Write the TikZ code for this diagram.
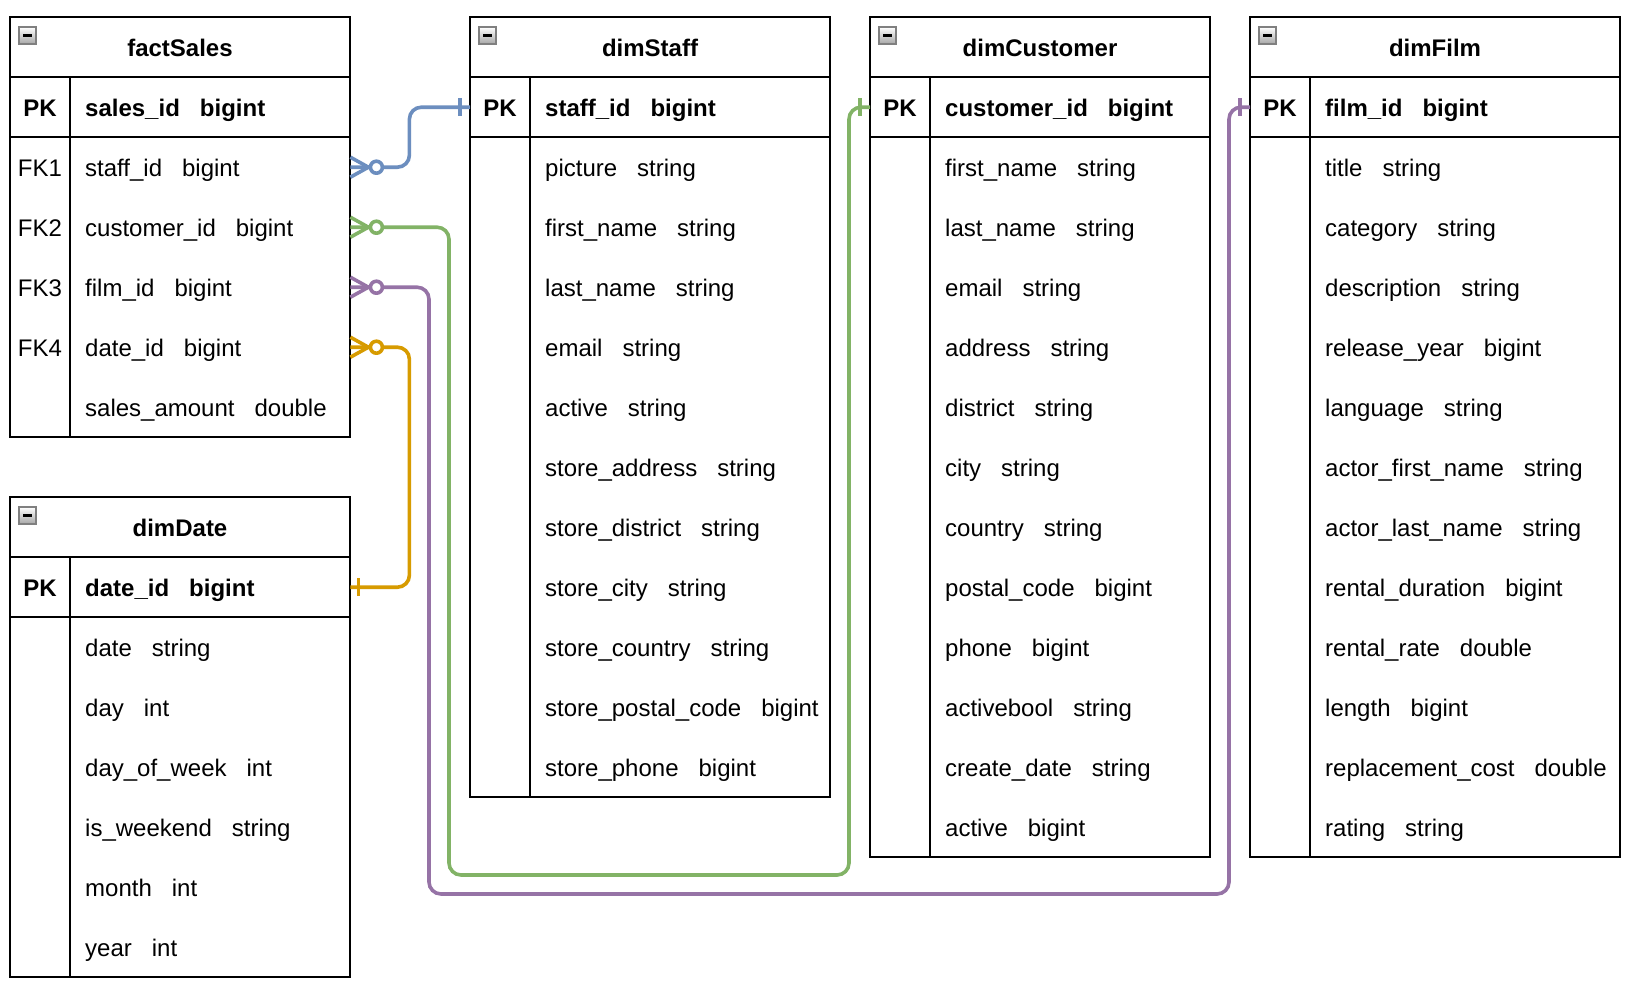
\documentclass[tikz,border=0pt]{standalone}
\usepackage{fontspec}
\setmainfont{Liberation Sans}
\usetikzlibrary{calc}
\definecolor{cBlue}{HTML}{6C8EBF}
\definecolor{cGreen}{HTML}{82B366}
\definecolor{cPurple}{HTML}{9673A6}
\definecolor{cOrange}{HTML}{D79B00}
\tikzset{
  tbline/.style={draw=black, line width=2pt},
  rowbox/.style={rectangle, minimum height=60pt, inner sep=0pt, anchor=north west},
  keytxt/.style={inner sep=0pt, anchor=base, font=\fontsize{24}{28}\selectfont},
  fldtxt/.style={inner sep=0pt, anchor=base west, font=\fontsize{24}{28}\selectfont},
  boldtxt/.style={font=\bfseries\fontsize{24}{28}\selectfont},
  conn/.style={line width=3.6pt, rounded corners=12pt},
  endmark/.style={line width=3.6pt, line join=round},
}
% #1 id, #2 x0, #3 y0, #4 width, #5 number of rows, #6 title, #7 pk field, #8 rows
\newcommand\mktable[8]{%
  \node[rowbox, minimum width=#4pt] (#1) at (#2,#3) {};
  \node[keytxt, boldtxt] (#1T) at (#2+#4/2,#3+39.5) {#6};
  \node[rowbox, minimum width=#4pt] (#1PK) at (#2,#3+60) {};
  \node[keytxt, boldtxt] (#1PKk) at (#2+30,#3+99.5) {PK};
  \node[fldtxt, boldtxt] (#1PKf) at (#2+75,#3+99.5) {#7};
  \foreach \ka/\kb/\kc [count=\ii] in {#8} {
    \node[rowbox, minimum width=#4pt] (#1R\ii) at (#2,#3+60+60*\ii) {};
    \node[keytxt] (#1K\ii) at (#2+30,#3+99.5+60*\ii) {\ka};
    \node[fldtxt] (#1F\ii) at (#2+75,#3+99.5+60*\ii) {\kb\hspace{20pt}\kc};
  }
  \draw[tbline] (#2,#3) rectangle (#2+#4,#3+120+60*#5);
  \draw[tbline] (#2,#3+60) -- (#2+#4,#3+60);
  \draw[tbline] (#2,#3+120) -- (#2+#4,#3+120);
  \draw[tbline] (#2+60,#3+60) -- (#2+60,#3+120+60*#5);
  \shade[top color=white, bottom color=black!35, draw=black!50, line width=1.2pt] (#2+9,#3+10) rectangle (#2+26,#3+27);
  \draw[line width=2.2pt] (#2+13,#3+18.5) -- (#2+22,#3+18.5);
}
\newcommand\manyend[2]{%
  \draw[endmark, #2] ($(#1.east)+(0,-10)$) -- ($(#1.east)+(18,0)$) -- ($(#1.east)+(0,10)$);
  \draw[endmark, #2, fill=white] ($(#1.east)+(26,0)$) circle (6pt);
}
\begin{document}
\begin{tikzpicture}[x=1pt,y=-1pt]
\fill[white] (0,0) rectangle (1629,988);
\useasboundingbox (0,0) rectangle (1629,988);

\mktable{fs}{10}{17}{340}{5}{factSales}{sales\_id\hspace{20pt}bigint}{%
  FK1/staff\_id/bigint, FK2/customer\_id/bigint, FK3/film\_id/bigint,
  FK4/date\_id/bigint, {}/sales\_amount/double}

\mktable{dd}{10}{497}{340}{6}{dimDate}{date\_id\hspace{20pt}bigint}{%
  {}/date/string, {}/day/int, {}/day\_of\_week/int, {}/is\_weekend/string,
  {}/month/int, {}/year/int}

\mktable{ds}{470}{17}{360}{11}{dimStaff}{staff\_id\hspace{20pt}bigint}{%
  {}/picture/string, {}/first\_name/string, {}/last\_name/string, {}/email/string,
  {}/active/string, {}/store\_address/string, {}/store\_district/string,
  {}/store\_city/string, {}/store\_country/string, {}/store\_postal\_code/bigint,
  {}/store\_phone/bigint}

\mktable{dc}{870}{17}{340}{12}{dimCustomer}{customer\_id\hspace{20pt}bigint}{%
  {}/first\_name/string, {}/last\_name/string, {}/email/string, {}/address/string,
  {}/district/string, {}/city/string, {}/country/string, {}/postal\_code/bigint,
  {}/phone/bigint, {}/activebool/string, {}/create\_date/string, {}/active/bigint}

\mktable{df}{1250}{17}{370}{12}{dimFilm}{film\_id\hspace{20pt}bigint}{%
  {}/title/string, {}/category/string, {}/description/string, {}/release\_year/bigint,
  {}/language/string, {}/actor\_first\_name/string, {}/actor\_last\_name/string,
  {}/rental\_duration/bigint, {}/rental\_rate/double, {}/length/bigint,
  {}/replacement\_cost/double, {}/rating/string}

\coordinate (gA) at (449,875);
\coordinate (gB) at (849,875);
\coordinate (pA) at (429,894);
\coordinate (pB) at (1229,894);

\draw[conn, cBlue] (fsR1.east) -- ++(59,0) |- (dsPK.west);
\draw[conn, cGreen] (fsR2.east) -| (gA) -- (gB) |- (dcPK.west);
\draw[conn, cPurple] (fsR3.east) -| (pA) -- (pB) |- (dfPK.west);
\draw[conn, cOrange] (fsR4.east) -- ++(59,0) |- (ddPK.east);

\manyend{fsR1}{cBlue}
\manyend{fsR2}{cGreen}
\manyend{fsR3}{cPurple}
\manyend{fsR4}{cOrange}

\draw[endmark, cBlue] ($(dsPK.west)+(-10,-9)$) -- ($(dsPK.west)+(-10,9)$);
\draw[endmark, cGreen] ($(dcPK.west)+(-10,-9)$) -- ($(dcPK.west)+(-10,9)$);
\draw[endmark, cPurple] ($(dfPK.west)+(-10,-9)$) -- ($(dfPK.west)+(-10,9)$);
\draw[endmark, cOrange] ($(ddPK.east)+(8,-9)$) -- ($(ddPK.east)+(8,9)$);
\end{tikzpicture}
\end{document}
